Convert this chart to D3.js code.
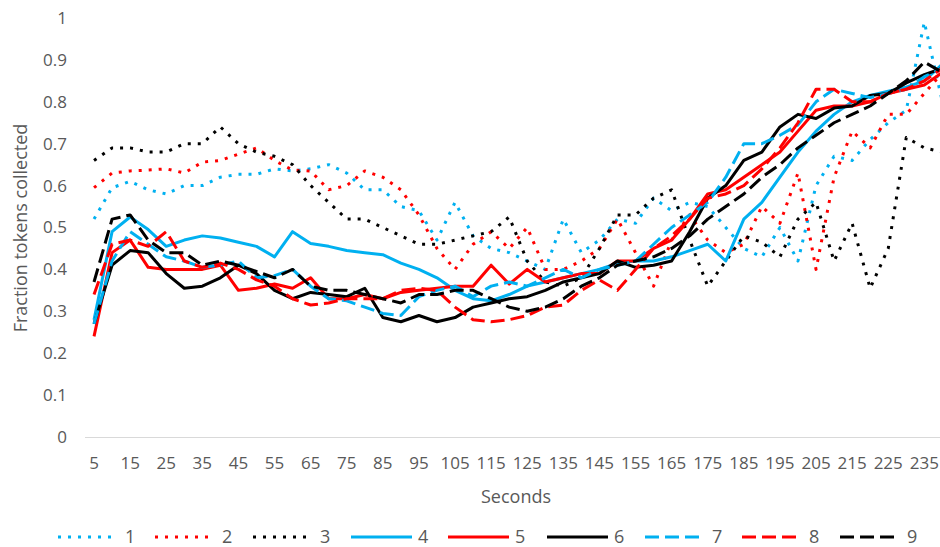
<!DOCTYPE html>
<html>
<head>
  <meta charset="utf-8">
  <title>Fraction tokens collected</title>
  <script src="https://d3js.org/d3.v7.min.js"></script>
  <style>
    body { margin: 0; background: #fff; }
    svg text { font-family: "Open Sans", "Liberation Sans", sans-serif; fill: #595959; }
  </style>
</head>
<body>
<script>
  // seconds, one category every 5 s (Excel category axis)
  var seconds = d3.range(5, 245, 5);
  var xLabels = seconds.filter(function(d, i) { return i % 2 === 0; });
  var yTicks = [0, 0.1, 0.2, 0.3, 0.4, 0.5, 0.6, 0.7, 0.8, 0.9, 1];

  var names = ["1", "2", "3", "4", "5", "6", "7", "8", "9"];

  var s1 = [0.52,0.595,0.61,0.59,0.58,0.60,0.60,0.62,0.627,0.627,0.64,0.635,0.64,0.65,0.63,0.59,0.59,0.55,0.54,0.47,0.56,0.48,0.45,0.44,0.42,0.40,0.52,0.44,0.47,0.52,0.51,0.57,0.54,0.56,0.55,0.50,0.45,0.43,0.50,0.42,0.60,0.67,0.66,0.71,0.75,0.78,0.99,0.80];
  var s2 = [0.595,0.63,0.635,0.637,0.64,0.63,0.656,0.66,0.675,0.69,0.66,0.637,0.635,0.59,0.60,0.635,0.62,0.59,0.53,0.45,0.40,0.46,0.49,0.45,0.50,0.40,0.40,0.42,0.45,0.52,0.44,0.36,0.47,0.53,0.47,0.44,0.46,0.55,0.51,0.63,0.40,0.62,0.73,0.69,0.77,0.77,0.82,0.87];
  var s3 = [0.66,0.69,0.69,0.68,0.68,0.70,0.70,0.74,0.70,0.68,0.67,0.65,0.60,0.56,0.52,0.52,0.50,0.48,0.46,0.46,0.47,0.48,0.49,0.525,0.42,0.37,0.36,0.38,0.45,0.53,0.53,0.57,0.59,0.47,0.36,0.42,0.48,0.465,0.43,0.52,0.56,0.42,0.51,0.355,0.45,0.715,0.69,0.68];
  var s4 = [0.28,0.49,0.525,0.495,0.455,0.47,0.48,0.475,0.465,0.455,0.43,0.49,0.462,0.455,0.445,0.44,0.435,0.415,0.40,0.38,0.35,0.33,0.325,0.34,0.36,0.37,0.38,0.39,0.40,0.415,0.42,0.42,0.43,0.445,0.46,0.42,0.52,0.56,0.62,0.68,0.73,0.77,0.80,0.815,0.825,0.835,0.85,0.89];
  var s5 = [0.24,0.44,0.47,0.405,0.40,0.40,0.40,0.41,0.35,0.355,0.365,0.355,0.38,0.33,0.33,0.34,0.33,0.345,0.35,0.355,0.36,0.36,0.41,0.365,0.40,0.37,0.38,0.39,0.39,0.42,0.42,0.45,0.47,0.52,0.58,0.59,0.62,0.65,0.68,0.73,0.78,0.79,0.79,0.80,0.82,0.83,0.84,0.87];
  var s6 = [0.27,0.41,0.445,0.44,0.39,0.355,0.36,0.38,0.41,0.39,0.35,0.33,0.345,0.34,0.335,0.355,0.285,0.275,0.29,0.275,0.285,0.31,0.32,0.33,0.335,0.35,0.37,0.38,0.39,0.42,0.405,0.41,0.42,0.49,0.57,0.60,0.66,0.68,0.74,0.77,0.76,0.785,0.79,0.815,0.82,0.845,0.865,0.88];
  var s7 = [0.27,0.42,0.49,0.46,0.43,0.42,0.405,0.41,0.42,0.38,0.385,0.40,0.36,0.33,0.325,0.31,0.295,0.29,0.335,0.35,0.36,0.335,0.36,0.37,0.36,0.38,0.40,0.38,0.40,0.41,0.42,0.46,0.50,0.53,0.56,0.62,0.70,0.70,0.72,0.745,0.80,0.83,0.82,0.81,0.82,0.83,0.86,0.88];
  var s8 = [0.34,0.46,0.47,0.455,0.49,0.42,0.405,0.415,0.40,0.375,0.36,0.33,0.315,0.32,0.33,0.33,0.33,0.35,0.355,0.35,0.31,0.28,0.275,0.28,0.29,0.31,0.315,0.35,0.375,0.35,0.40,0.45,0.48,0.52,0.57,0.58,0.60,0.64,0.69,0.75,0.83,0.83,0.80,0.80,0.82,0.83,0.85,0.88];
  var s9 = [0.37,0.52,0.53,0.47,0.44,0.44,0.41,0.42,0.41,0.395,0.38,0.40,0.36,0.35,0.35,0.34,0.33,0.32,0.34,0.34,0.35,0.35,0.33,0.31,0.30,0.31,0.33,0.36,0.38,0.41,0.42,0.43,0.45,0.48,0.52,0.55,0.58,0.62,0.65,0.69,0.72,0.75,0.77,0.79,0.82,0.85,0.895,0.87];

  var seriesValues = [s1, s2, s3, s4, s5, s6, s7, s8, s9];
  var colors = ["#00b0f0", "#ff0000", "#000000", "#00b0f0", "#ff0000", "#000000", "#00b0f0", "#ff0000", "#000000"];
  var dashes = ["3,7", "3,7", "3,7", null, null, null, "14,6", "14,6", "14,6"];

  var width = 940, height = 547;

  var svg = d3.select("body").append("svg")
      .attr("width", width)
      .attr("height", height);

  var x = d3.scaleBand()
      .domain(seconds)
      .range([85, 85 + seconds.length * 18.05]);

  var y = d3.scaleLinear()
      .domain([0, 1])
      .range([437, 18]);

  // y axis (labels only)
  svg.append("g")
      .attr("transform", "translate(85,0)")
      .call(d3.axisLeft(y).tickValues(yTicks).tickSize(0).tickPadding(18)
        .tickFormat(function(d) { return +d.toFixed(1); }))
      .call(function(g) { g.select(".domain").remove(); })
      .selectAll("text")
      .style("font-size", "17px");

  // x axis
  svg.append("g")
      .attr("transform", "translate(0,437)")
      .call(d3.axisBottom(x).tickValues(xLabels).tickSize(0).tickPadding(20))
      .call(function(g) { g.select(".domain").remove(); })
      .selectAll("text")
      .style("font-size", "17px");

  svg.append("line")
      .attr("x1", 85).attr("x2", width)
      .attr("y1", 437.5).attr("y2", 437.5)
      .attr("stroke", "#d9d9d9")
      .attr("stroke-width", 1);

  var line = d3.line()
      .x(function(d, i) { return x(seconds[i]) + x.bandwidth() / 2; })
      .y(function(d) { return y(d); });

  svg.append("g").selectAll("path")
      .data(seriesValues)
      .enter()
      .append("path")
      .attr("d", line)
      .attr("fill", "none")
      .attr("stroke", function(d, i) { return colors[i]; })
      .attr("stroke-width", 3)
      .attr("stroke-linejoin", "round")
      .attr("stroke-dasharray", function(d, i) { return dashes[i]; });

  // axis titles
  svg.append("text")
      .attr("x", 516).attr("y", 503)
      .attr("text-anchor", "middle")
      .style("font-size", "18px")
      .text("Seconds");

  svg.append("text")
      .attr("transform", "translate(27,228) rotate(-90)")
      .attr("text-anchor", "middle")
      .style("font-size", "18px")
      .text("Fraction tokens collected");

  // legend
  var legendX = [58, 155, 253, 351, 448, 547, 645, 742, 840];
  var legendLen = [57, 57, 57, 61, 61, 61, 56, 56, 56];
  var legend = svg.append("g").selectAll("g")
      .data(names)
      .enter()
      .append("g")
      .attr("transform", function(d, i) { return "translate(" + legendX[i] + ",537)"; });

  legend.append("line")
      .attr("x1", 0).attr("x2", function(d, i) { return legendLen[i]; })
      .attr("stroke", function(d, i) { return colors[i]; })
      .attr("stroke-width", 3)
      .attr("stroke-dasharray", function(d, i) { return dashes[i]; });

  legend.append("text")
      .attr("x", 67)
      .attr("dy", "0.35em")
      .style("font-size", "18px")
      .text(function(d) { return d; });
</script>
</body>
</html>
